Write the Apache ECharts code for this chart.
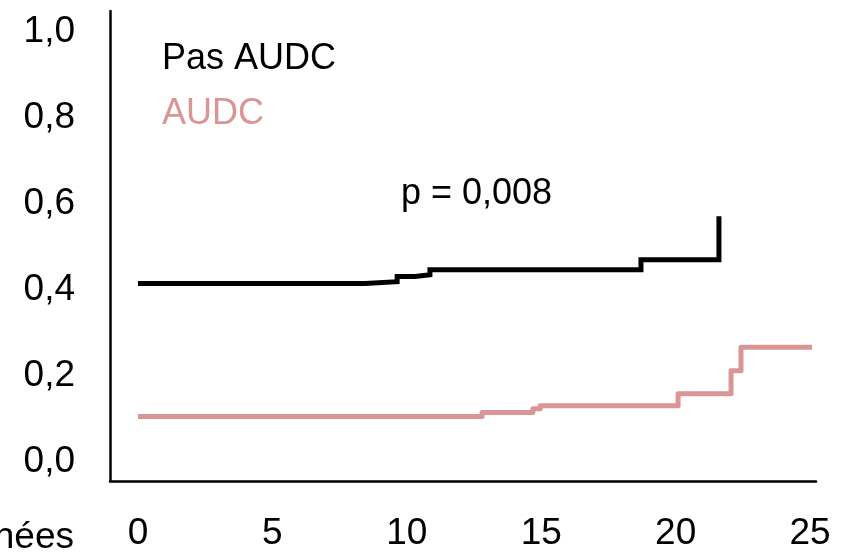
<!DOCTYPE html>
<html>
<head>
<meta charset="utf-8">
<script src="https://cdn.jsdelivr.net/npm/echarts@6/dist/echarts.min.js"></script>
<style>
html,body{margin:0;padding:0;background:#fff;}
#chart{width:843px;height:552px;}
</style>
</head>
<body>
<div id="chart"></div>
<script>
// Data (x in years, y cumulative probability)
const seriesNames = ['Pas AUDC', 'AUDC'];
const pasAudcTimes  = [0, 8.44, 9.64, 10.31, 10.86, 18.71, 21.61];
const pasAudcValues = [0.415, 0.419, 0.431, 0.435, 0.447, 0.470, 0.571];
const audcTimes  = [0, 12.80, 14.69, 14.96, 20.09, 22.06, 22.43, 25.07];
const audcValues = [0.106, 0.115, 0.124, 0.131, 0.159, 0.212, 0.267, 0.267];
const xTickValues = [0, 5, 10, 15, 20, 25];
const yTickValues = [0, 0.2, 0.4, 0.6, 0.8, 1.0];
const xAxisTitle = 'Années';
const pValueText = 'p = 0,008';

const FONT = "'Liberation Sans', Arial, sans-serif";
const PINK = '#D99694';
const FS = 36;

function pairs(xs, ys) { return xs.map((x, i) => [x, ys[i]]); }

const chart = echarts.init(document.getElementById('chart'), null, {renderer: 'canvas'});
chart.setOption({
  animation: false,
  backgroundColor: '#fff',
  textStyle: {fontFamily: FONT},
  grid: {left: 110, top: 11, right: 27, bottom: 67, containLabel: false},
  legend: {
    orient: 'vertical',
    left: 152, top: 36,
    icon: 'none',
    itemWidth: 0, itemHeight: 0,
    itemGap: 19,
    selectedMode: false,
    textStyle: {fontSize: FS, fontFamily: FONT, padding: 0},
    data: [
      {name: seriesNames[0], textStyle: {color: '#000'}},
      {name: seriesNames[1], textStyle: {color: PINK}}
    ]
  },
  xAxis: {
    type: 'value',
    min: -1.04, max: 25.22,
    axisLine: {show: true, onZero: false, lineStyle: {color: '#000', width: 2.5}},
    axisTick: {show: false},
    splitLine: {show: false},
    axisLabel: {
      customValues: xTickValues,
      fontSize: FS + 1, color: '#000', fontFamily: FONT, margin: 34
    }
  },
  yAxis: {
    type: 'value',
    min: -0.044, max: 1.048,
    axisLine: {show: true, onZero: false, lineStyle: {color: '#000', width: 2.5}},
    axisTick: {show: false},
    splitLine: {show: false},
    axisLabel: {
      customValues: yTickValues,
      fontSize: FS + 1, color: '#000', fontFamily: FONT, margin: 35,
      formatter: v => v.toFixed(1).replace('.', ',')
    }
  },
  graphic: [
    {type: 'text', x: 74, y: 538,
     style: {text: xAxisTitle, font: (FS + 1) + 'px ' + FONT, fill: '#000', textAlign: 'right', textVerticalAlign: 'middle'}},
    {type: 'text', x: 401, y: 194,
     style: {text: pValueText, font: FS + 'px ' + FONT, fill: '#000', textAlign: 'left', textVerticalAlign: 'middle'}}
  ],
  series: [
    {
      name: seriesNames[0], type: 'line', step: 'end', symbol: 'none',
      data: pairs(pasAudcTimes, pasAudcValues),
      lineStyle: {color: '#000', width: 5, cap: 'butt', join: 'miter'},
      itemStyle: {color: '#000'}
    },
    {
      name: seriesNames[1], type: 'line', step: 'end', symbol: 'none',
      data: pairs(audcTimes, audcValues),
      lineStyle: {color: PINK, width: 5, cap: 'butt', join: 'round'},
      itemStyle: {color: PINK}
    }
  ]
});
</script>
</body>
</html>
